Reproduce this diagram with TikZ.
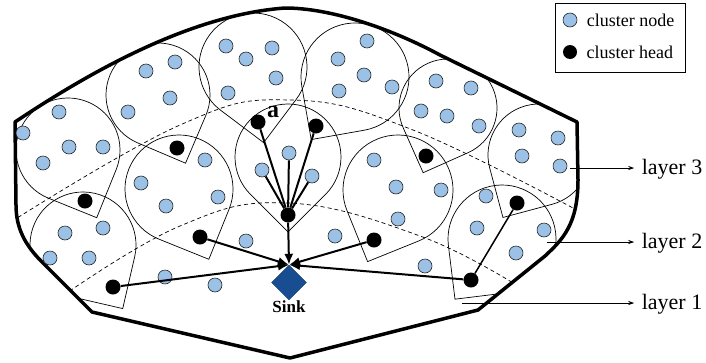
\documentclass[tikz,border=0pt]{standalone}
\usepackage{fontspec}
\setmainfont{Liberation Serif}
\usetikzlibrary{arrows.meta, shapes.geometric, positioning}

\definecolor{nodeblue}{RGB}{155,194,230}
\definecolor{sinkblue}{RGB}{24,78,145}

\begin{document}
\begin{tikzpicture}[
  x=1pt, y=1pt, yscale=-1,
  member/.style={circle, draw=black!85, line width=0.6pt, fill=nodeblue,
    minimum size=14pt, inner sep=0pt},
  head/.style={circle, fill=black, minimum size=15pt, inner sep=0pt},
  cluster/.style={line width=0.7pt},
  layerline/.style={dash pattern=on 4pt off 3pt, line width=0.7pt},
  field/.style={line width=3.5pt, line join=round},
  arr/.style={-{Latex[length=11pt, width=9pt]}, line width=2pt},
  link/.style={line width=2pt},
  tag/.style={-{Stealth[length=6pt, width=4pt]}, line width=0.8pt},
  legendtext/.style={font=\fontsize{18}{20}\selectfont},
  layertext/.style={font=\fontsize{22}{24}\selectfont}
]
\useasboundingbox (0,0) rectangle (706,362);

% clusters and layer borders, cut off at the field border
\begin{scope}
\clip (15,122) .. controls (90,72) and (190,15) .. (285,8)
  .. controls (330,8) and (390,28) .. (440,55) -- (577,122) -- (578,180)
  .. controls (578,225) and (562,240) .. (545,256) -- (478,310)
  -- (290,358) -- (92,312) -- (42,262)
  .. controls (25,245) and (16,228) .. (16,205) -- cycle;
\foreach \cx/\cy/\r/\a in {68/150/52/67, 158/95/52/68, 253/67/54/82,
    355/77/54/125, 448/108/49/111, 539/155/51/120, 288/157/53/90,
    179/189/54/67, 398/190/55/113, 83/245/53/58, 502/239/54/128}
  \draw[cluster, shift={(\cx,\cy)}] (\a:{1.4142*\r}) -- (\a+45:\r)
    arc[start angle=\a+45, end angle=\a+315, radius=\r] -- cycle;
\draw[layerline] plot[smooth, tension=0.7] coordinates
  {(6,225) (180,125) (290,100) (413,130) (588,216)};
\draw[layerline] plot[smooth, tension=0.7] coordinates
  {(58,299) (180,226) (288,203) (420,236) (518,286)};
\end{scope}

% field border
\draw[field] (15,122) .. controls (90,72) and (190,15) .. (285,8)
  .. controls (330,8) and (390,28) .. (440,55) -- (577,122) -- (578,180)
  .. controls (578,225) and (562,240) .. (545,256) -- (478,310)
  -- (290,358) -- (92,312) -- (42,262)
  .. controls (25,245) and (16,228) .. (16,205) -- cycle;

% cluster members
\foreach \x/\y [count=\i] in {23/133, 59/112, 69/147, 103/147, 43/163,
    146/71, 175/62, 170/98, 128/112,
    226/46, 246/59, 272/48, 276/78, 228/93,
    338/59, 367/41, 364/75, 339/91, 392/87,
    436/81, 471/88, 421/111, 447/116, 479/126,
    519/130, 558/138, 522/156, 560/166,
    141/183, 166/206, 205/160, 218/197,
    65/233, 103/228, 50/258, 89/258,
    374/160, 396/187, 441/190, 398/219,
    486/196, 477/228, 544/230, 516/253,
    246/241, 335/236, 165/277, 215/285, 425/266}
  \node[member] (m\i) at (\x,\y) {};
\node[member] (c1) at (289,153) {};
\node[member] (c2) at (262,170) {};
\node[member] (c3) at (312,176) {};

% cluster heads
\node[head] (hL1) at (85,201) {};
\node[head] (hA) at (177,148) {};
\node[head] (hT1) at (258,122) {};
\node[head] (hT2) at (316,126) {};
\node[head] (hC3) at (426,156) {};
\node[head] (hR1) at (517,203) {};
\node[head] (hC) at (288,215) {};
\node[head] (hC1) at (200,237) {};
\node[head] (hC2) at (374,240) {};
\node[head] (hL2) at (113,287) {};
\node[head] (hR2) at (471,280) {};

\node[font=\bfseries\fontsize{24}{24}\selectfont] (alabel) at (273,112) {a};

% sink
\node[diamond, aspect=1, minimum size=35pt, inner sep=0pt, fill=sinkblue,
  draw=sinkblue!70!black] (sink) at (289,282.5) {};
\node[below=0pt of sink, inner sep=0pt,
  font=\bfseries\fontsize{17}{17}\selectfont] (sinklabel) {Sink};

% links
\draw[link] (hT1) -- (hC);
\draw[link] (hT2) -- (hC);
\draw[link] (c1) -- (hC);
\draw[link] (c2) -- (hC);
\draw[link] (c3) -- (hC);
\draw[link, line width=1.5pt] (hR1) -- (hR2);
\draw[arr] (hC) -- (sink.north);
\draw[arr] (hC1) -- (sink.north);
\draw[arr] (hC2) -- (sink.north);
\draw[arr] (hL2) -- (sink.north);
\draw[arr] (hR2) -- (sink.north);

% layers
\node[layertext] (l3) at (672,169) {layer 3};
\node[layertext] (l2) at (672,243) {layer 2};
\node[layertext] (l1) at (672,304) {layer 1};
\coordinate (l3s) at (570,168);
\coordinate (l2s) at (547,242);
\coordinate (l1s) at (462,303);
\draw[tag, shorten >=4pt] (l3s) -- (l3s -| l3.west);
\draw[tag, shorten >=4pt] (l2s) -- (l2s -| l2.west);
\draw[tag, shorten >=4pt] (l1s) -- (l1s -| l1.west);

% legend
\draw[line width=0.8pt] (555,3) rectangle (685,72);
\node[member] (k1) at (570,20) {};
\node[head, minimum size=14pt] (k2) at (570,52) {};
\node[legendtext, right=6pt of k1] (k1t) {cluster node};
\node[legendtext, right=6pt of k2] (k2t) {cluster head};
\end{tikzpicture}
\end{document}
